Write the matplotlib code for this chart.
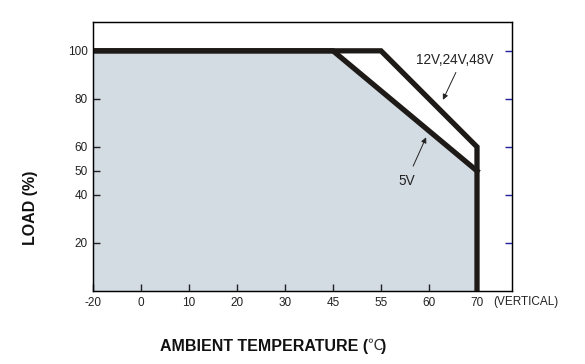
import matplotlib
matplotlib.use("Agg")
import matplotlib.pyplot as plt

plt.rcParams['font.family'] = ['Liberation Sans', 'DejaVu Sans']

# x axis is not linear: temperatures sit at evenly spaced slots
temp_ticks = [-20, 0, 10, 20, 30, 45, 55, 60, 70]
load_ticks = [20, 40, 50, 60, 80, 100]

# derating curves (temperature, load %)
curve_12v_temp = [-20, 55, 70, 70]
curve_12v_load = [100, 100, 60, 0]
curve_5v_temp = [-20, 45, 70]
curve_5v_load = [100, 100, 50]

def pos(t):
    return temp_ticks.index(t)

W, H = 585, 364
fig = plt.figure(figsize=(W/100, H/100), dpi=100)
ax = fig.add_axes([93/W, 1-291/H, (512-93)/W, (291-22)/H])

x5 = [pos(t) for t in curve_5v_temp]
x12 = [pos(t) for t in curve_12v_temp]

ax.fill_between(x5, curve_5v_load, 0, color='#d3dbe3', lw=0, zorder=1)
ax.plot(x12, curve_12v_load, color='#1e1a17', lw=3.8, solid_joinstyle='miter', zorder=3)
ax.plot(x5, curve_5v_load, color='#1e1a17', lw=3.8, solid_joinstyle='miter', zorder=3)

ax.set_xlim(0, (512-93)/48)
ax.set_ylim(0, 112)

ax.set_xticks(range(len(temp_ticks)))
ax.set_xticklabels([str(t) for t in temp_ticks])
ax.set_yticks(load_ticks)
ax.set_yticklabels([str(v) for v in load_ticks])
ax.tick_params(axis='both', direction='in', length=5, width=1, labelsize=8.5, colors='#222222', pad=4)
for sp in ax.spines.values():
    sp.set_linewidth(1)
    sp.set_color('#111111')

# blue ticks on the right side, no labels
ax2 = ax.twinx()
ax2.set_ylim(ax.get_ylim())
ax2.set_yticks([20, 40, 60, 80, 100])
ax2.tick_params(axis='y', direction='in', length=5, width=1, color='#2020a0', labelright=False)

ax.text(8.33, -4.6, '(VERTICAL)', fontsize=8.5, color='#222222',
        ha='left', va='center', clip_on=False)

# labels and arrows for the two curves
arrow = dict(arrowstyle='-|>', color='#222222', lw=0.7, mutation_scale=8, shrinkA=0, shrinkB=0)
ax.text(7.54, 96, '12V,24V,48V', fontsize=9.8, color='#222222', ha='center', va='center')
ax.annotate('', xy=(7.29, 79.6), xytext=(7.56, 91), arrowprops=arrow)
ax.text(6.54, 46, '5V', fontsize=9.8, color='#222222', ha='center', va='center')
ax.annotate('', xy=(6.94, 64), xytext=(6.67, 52), arrowprops=arrow)

fig.text(30/W, 1-208/H, 'LOAD (%)', rotation=90, fontsize=11.5, fontweight='bold',
         ha='center', va='center', color='#111111')

# x label in three pieces so the degree sign can use a different font
renderer = fig.canvas.get_renderer()
t1 = fig.text(160/W, 1-346/H, 'AMBIENT TEMPERATURE (', fontsize=11.5, fontweight='bold',
              ha='left', va='center', color='#111111')
x_next = t1.get_window_extent(renderer).x1 - 1
t2 = fig.text(x_next/W, 1-345/H, '\u2103', fontsize=11, family=['Noto Sans CJK SC', 'DejaVu Sans'],
              ha='left', va='center', color='#333333')
x_next = t2.get_window_extent(renderer).x1 - 1
fig.text(x_next/W, 1-346/H, ')', fontsize=11.5, fontweight='bold',
         ha='left', va='center', color='#111111')

fig.savefig('out.png', dpi=100)
